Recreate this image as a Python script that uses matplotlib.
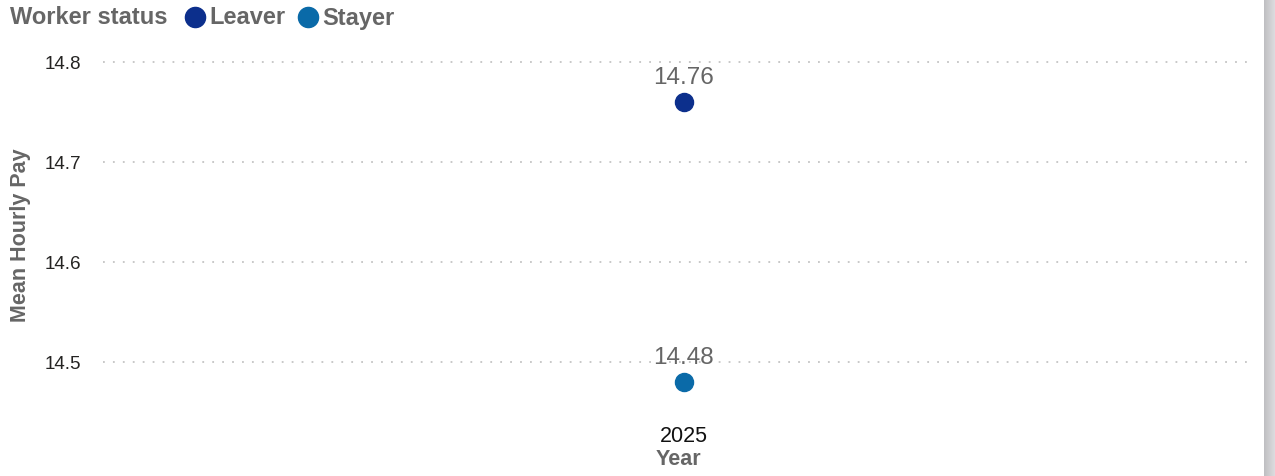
import matplotlib

matplotlib.use("Agg")
import matplotlib.pyplot as plt
import numpy as np
from matplotlib.patches import Rectangle

plt.rcParams["font.family"] = ["Liberation Sans", "DejaVu Sans"]

# mean hourly pay by worker status, one year
years = ["2025"]
statuses = ["Leaver", "Stayer"]
pay = {"Leaver": [14.76], "Stayer": [14.48]}
colors = {"Leaver": "#0C2F8C", "Stayer": "#0A6AA8"}
y_ticks = [14.5, 14.6, 14.7, 14.8]

W, H = 1275, 477
fig = plt.figure(figsize=(W / 100, H / 100), dpi=100)
ax = fig.add_axes([103 / W, 1 - 418 / H, (1253 - 103) / W, (418 - 53) / H])

x = range(len(years))
for s in statuses:
    ax.plot(x, pay[s], "o", color=colors[s], markersize=13, zorder=3)
    for xi, v in zip(x, pay[s]):
        ax.annotate(f"{v:.2f}", (xi, v), xytext=(0, 18), textcoords="offset points",
                    ha="center", va="center", fontsize=17.5, color="#666666")

ax.set_xlim(-1.01, 0.99)
ax.set_ylim(14.445, 14.81)
ax.set_yticks(y_ticks)
ax.set_yticklabels([f"{t:.1f}" for t in y_ticks], fontsize=13.6, color="#252423")
ax.set_xticks(list(x))
ax.set_xticklabels(years, fontsize=15.5, color="#111111")
ax.tick_params(length=0)
ax.tick_params(axis="y", pad=15.5)
ax.tick_params(axis="x", pad=6)
ax.grid(axis="y", linestyle=(0, (1, 4.5)), color="#c4c4c4", linewidth=1.3)
for sp in ax.spines.values():
    sp.set_visible(False)

ax.set_ylabel("Mean Hourly Pay", fontsize=15.5, fontweight="bold", color="#666666")
ax.yaxis.set_label_coords(-72 / 1150, 0.5)
ax.set_xlabel("Year", fontsize=15.5, fontweight="bold", color="#666666", va="center")
ax.xaxis.set_label_coords((678 - 103) / 1150, -42 / 365)

# legend row across the top
fig.text(10 / W, 1 - 18 / H, "Worker status", fontsize=17, fontweight="bold",
         color="#666666", va="center", ha="left")
leg_pos = {"Leaver": 195, "Stayer": 308}
for s in statuses:
    fig.lines.append(plt.Line2D([leg_pos[s] / W], [1 - 18 / H], marker="o", markersize=14.5,
                                color=colors[s], transform=fig.transFigure, linestyle=""))
    fig.text((leg_pos[s] + 14) / W, 1 - 18 / H, s, fontsize=17, fontweight="bold",
             color="#666666", va="center", ha="left")

# grey strip on the right edge, slightly shaded
shades = np.linspace(0.75, 0.86, 11)
for i, g in enumerate(shades):
    fig.patches.append(Rectangle(((1264 + i) / W, 0), 1 / W, 1, transform=fig.transFigure,
                                 facecolor=(g, g, g + 0.01), edgecolor="none"))

fig.savefig("out.png", dpi=100)
